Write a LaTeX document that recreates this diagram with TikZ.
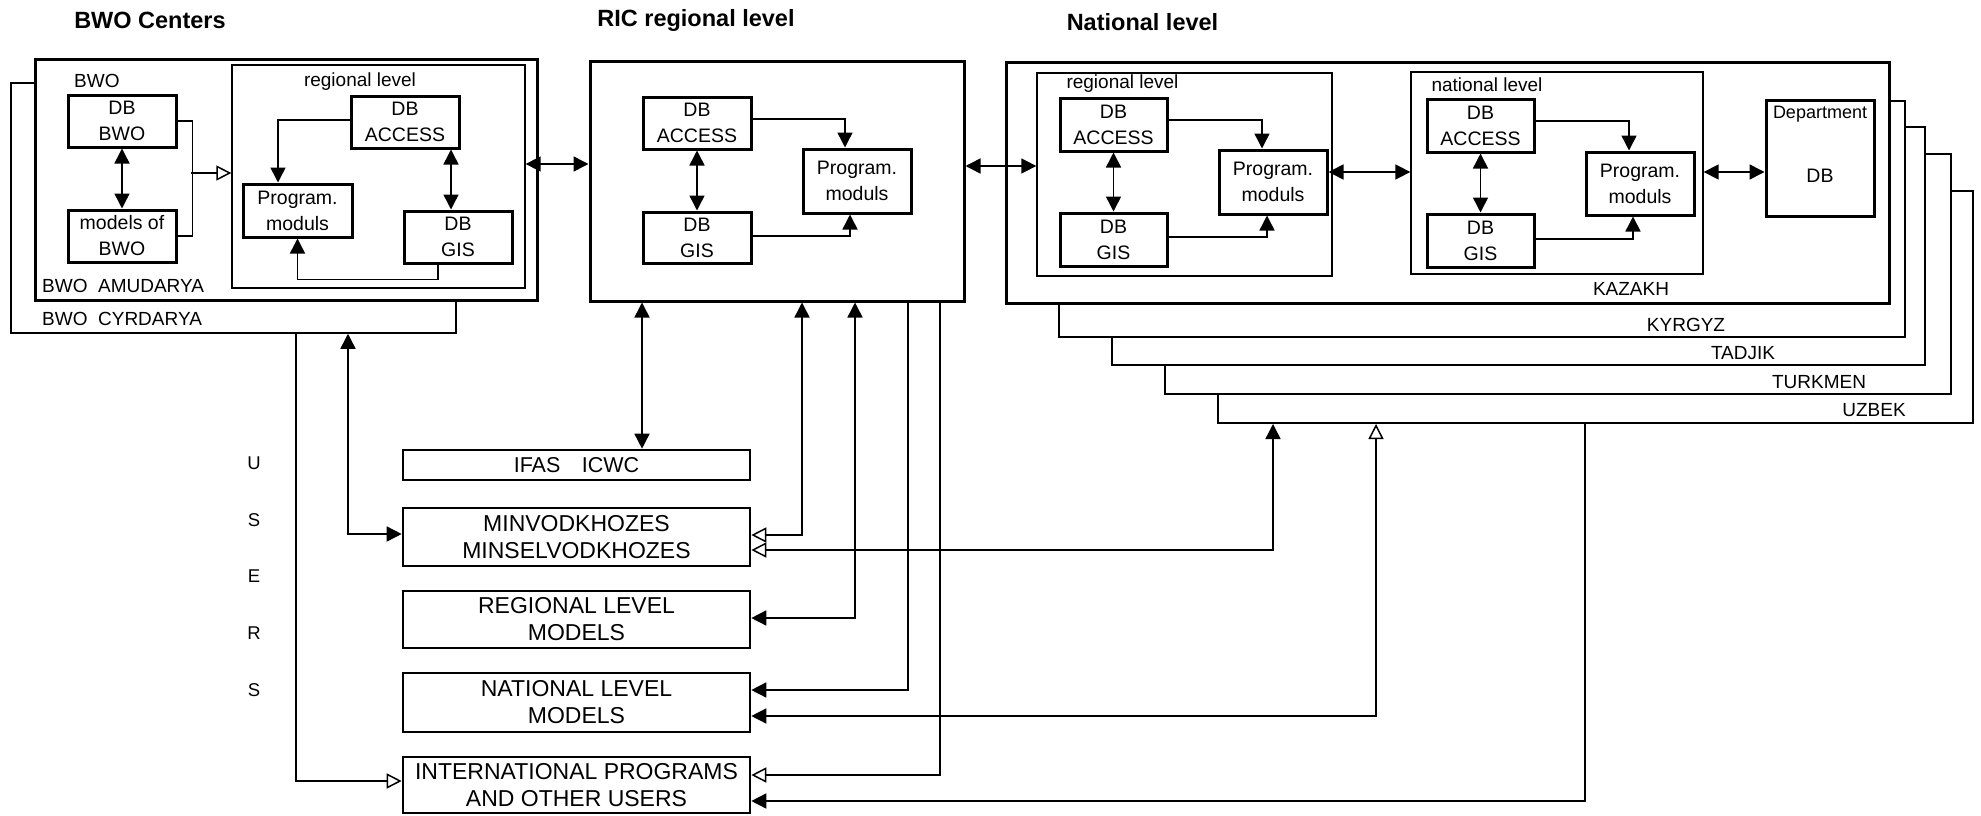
\documentclass[tikz,border=0pt]{standalone}
\usepackage{fontspec}
\setmainfont{Liberation Sans}
\usetikzlibrary{arrows.meta}
\begin{document}
\begin{tikzpicture}[x=1pt,y=-1pt,
  bx/.style={draw, line width=3pt, fill=white, inner sep=0pt, align=center, font=\fontsize{19.5}{26}\selectfont},
  cont/.style={draw, line width=1.3pt, inner sep=0pt},
  stk/.style={draw, line width=2pt, fill=white, inner sep=0pt},
  big/.style={draw, line width=3pt, fill=white, inner sep=0pt},
  ubx/.style={draw, line width=2.6pt, inner sep=0pt, align=center, font=\fontsize{23}{27}\selectfont, minimum width=347pt},
  lbl/.style={inner sep=0pt, font=\fontsize{19}{22}\selectfont},
  ulbl/.style={inner sep=0pt, font=\fontsize{18.5}{22}\selectfont},
  ttl/.style={inner sep=0pt, font=\fontsize{23.5}{28}\selectfont\bfseries},
  cn/.style={line width=1.5pt},
  arrS/.style={cn, -{Triangle[length=15pt,width=15pt]}},
  arrO/.style={cn, -{Triangle[open,length=15pt,width=15pt]}},
  arrSS/.style={cn, {Triangle[length=15pt,width=15pt]}-{Triangle[length=15pt,width=15pt]}},
  arrSO/.style={cn, {Triangle[length=15pt,width=15pt]}-{Triangle[open,length=15pt,width=15pt]}},
  arrOS/.style={cn, {Triangle[open,length=15pt,width=15pt]}-{Triangle[length=15pt,width=15pt]}}
]
\useasboundingbox (0,0) rectangle (1981,816);

% titles
\node[ttl] (t1) at (150,20) {BWO Centers};
\node[ttl] (t2) at (696,20) {RIC regional level};
\node[ttl] (t3) at (1142.5,22) {National level};

% ---------------- BWO centers ----------------
\node[stk, line width=1.5pt, minimum width=445pt, minimum height=250pt] (cyr) at (233.5,208) {};
\node[big, minimum width=502pt, minimum height=240pt] (amu) at (286,180) {};
\node[cont, minimum width=293pt, minimum height=223pt] (regB) at (378.5,176.5) {};
\node[bx, minimum width=108pt, minimum height=52pt] (dbbwo) at (122,121) {DB\\BWO};
\node[bx, minimum width=108pt, minimum height=52pt] (modbwo) at (122,236) {models of\\BWO};
\node[bx, minimum width=108pt, minimum height=52pt] (accB) at (405,122) {DB\\ACCESS};
\node[bx, minimum width=109pt, minimum height=53pt] (progB) at (297.5,210.5) {Program.\\moduls};
\node[bx, minimum width=108pt, minimum height=52pt] (gisB) at (458,237) {DB\\GIS};

\node[lbl, anchor=west] (tBWO) at (74,81) {BWO};
\node[lbl] (tRegB) at (360,82) {regional level};
\node[lbl, anchor=west] (tAmu) at (42,286) {BWO~~AMUDARYA};
\node[lbl, anchor=west] (tCyr) at (42,319) {BWO~~CYRDARYA};

\draw[arrSS] (dbbwo) -- (modbwo);
\draw[cn] (dbbwo.east) -- ++(15,0) |- (modbwo.east);
\coordinate (jB) at (191,173);
\draw[arrO] (jB) -- (jB -| regB.west);
\draw[arrS] ([yshift=2pt]accB.west) -| ([xshift=-19.5pt]progB.north);
\draw[arrSS] ([xshift=46pt]accB.south) -- ([xshift=-7pt]gisB.north);
\draw[arrS] ([xshift=-20pt]gisB.south) -- ++(0,15) -| (progB.south);

% ---------------- RIC ----------------
\node[big, minimum width=374pt, minimum height=239pt] (ric) at (777,181.5) {};
\node[bx, minimum width=108pt, minimum height=52pt] (accR) at (697,123) {DB\\ACCESS};
\node[bx, minimum width=108pt, minimum height=51pt] (gisR) at (697,237.5) {DB\\GIS};
\node[bx, minimum width=108pt, minimum height=64pt] (progR) at (857,181) {Program.\\moduls};
\draw[arrSS] (accR) -- (gisR);
\draw[arrS] ([yshift=4pt]accR.east) -| ([xshift=-12pt]progR.north);
\draw[arrS] ([yshift=1.5pt]gisR.east) -| ([xshift=-7pt]progR.south);
\coordinate (yA) at (0,164);
\draw[arrSS] (regB.east |- yA) -- (ric.west |- yA);

% ---------------- National ----------------
\node[stk, minimum width=755pt, minimum height=232pt] (uzb) at (1595.5,307) {};
\node[stk, minimum width=786pt, minimum height=240pt] (tur) at (1558,274) {};
\node[stk, minimum width=813pt, minimum height=238pt] (tad) at (1518.5,246) {};
\node[stk, minimum width=846pt, minimum height=236pt] (kyr) at (1482,219) {};
\node[big, minimum width=883pt, minimum height=240pt] (kaz) at (1447.5,183) {};

\node[cont, minimum width=295pt, minimum height=203pt] (regN) at (1184.5,174.5) {};
\node[bx, minimum width=107pt, minimum height=53pt] (accN1) at (1113.5,124.5) {DB\\ACCESS};
\node[bx, minimum width=107pt, minimum height=53pt] (gisN1) at (1113.5,239.5) {DB\\GIS};
\node[bx, minimum width=108pt, minimum height=64pt] (progN1) at (1273,182) {Program.\\moduls};
\node[cont, minimum width=292pt, minimum height=202pt] (natN) at (1557,173) {};
\node[bx, minimum width=107pt, minimum height=53pt] (accN2) at (1480.5,125.5) {DB\\ACCESS};
\node[bx, minimum width=107pt, minimum height=53pt] (gisN2) at (1480.5,240.5) {DB\\GIS};
\node[bx, minimum width=108pt, minimum height=63pt] (progN2) at (1640,183.5) {Program.\\moduls};
\node[bx, minimum width=108pt, minimum height=116pt] (dept) at (1820,158) {};
\node[lbl, font=\fontsize{18}{20}\selectfont] (deptT) at (1820,114) {Department};
\node[lbl, font=\fontsize{19.5}{22}\selectfont] (deptD) at (1820,176) {DB};

\node[lbl] (tRegN) at (1122.5,84) {regional level};
\node[lbl] (tNatN) at (1487,85) {national level};
\node[lbl] (tKaz) at (1631,289) {KAZAKH};
\node[lbl] (tKyr) at (1686,325) {KYRGYZ};
\node[lbl] (tTad) at (1743,353) {TADJIK};
\node[lbl] (tTur) at (1819,382) {TURKMEN};
\node[lbl] (tUzb) at (1874,410) {UZBEK};

\draw[arrSS] (accN1) -- (gisN1);
\draw[arrS] ([yshift=4.5pt]accN1.east) -| ([xshift=-11pt]progN1.north);
\draw[arrS] ([yshift=2.5pt]gisN1.east) -| ([xshift=-6pt]progN1.south);
\coordinate (yB) at (0,166);
\draw[arrSS] (ric.east |- yB) -- (regN.west |- yB);
\coordinate (yC) at (0,172);
\draw[arrSS] (progN1.east |- yC) -- (natN.west |- yC);
\draw[arrSS] (accN2) -- (gisN2);
\draw[arrS] ([yshift=4.5pt]accN2.east) -| ([xshift=-11pt]progN2.north);
\draw[arrS] ([yshift=1.5pt]gisN2.east) -| ([xshift=-7pt]progN2.south);
\draw[arrSS] (natN.east |- yC) -- (dept.west |- yC);

% ---------------- Users ----------------
\node[ulbl] (u1) at (254,463) {U};
\node[ulbl] (u2) at (254,520) {S};
\node[ulbl] (u3) at (254,576) {E};
\node[ulbl] (u4) at (254,633) {R};
\node[ulbl] (u5) at (254,690) {S};

\node[ubx, minimum height=30pt, font=\fontsize{21.5}{26}\selectfont] (ifas) at (576.5,465) {IFAS\hspace{1em}ICWC};
\node[ubx, minimum height=58pt] (minv) at (576.5,537) {MINVODKHOZES\\MINSELVODKHOZES};
\node[ubx, minimum height=57pt] (regm) at (576.5,619.5) {REGIONAL LEVEL\\MODELS};
\node[ubx, minimum height=59pt] (natm) at (576.5,702.5) {NATIONAL LEVEL\\MODELS};
\node[ubx, minimum height=56pt] (intl) at (576.5,785) {INTERNATIONAL PROGRAMS\\AND OTHER USERS};

\draw[arrO] ([xshift=62.5pt]cyr.south) |- ([yshift=4pt]intl.west);
\draw[arrSS] ([xshift=114.5pt]cyr.south) |- ([yshift=3pt]minv.west);
\draw[arrSS] ([xshift=-135pt]ric.south) -- ([xshift=65.5pt]ifas.north);
\draw[arrSO] ([xshift=25pt]ric.south) |- ([yshift=2pt]minv.east);
\draw[arrSS] ([xshift=78pt]ric.south) |- ([yshift=1.5pt]regm.east);
\draw[arrS] ([xshift=131pt]ric.south) |- ([yshift=12.5pt]natm.east);
\draw[arrO] ([xshift=163pt]ric.south) |- ([yshift=10pt]intl.east);
\draw[arrSO] ([xshift=-322.5pt]uzb.south) |- ([yshift=-13pt]minv.east);
\draw[arrOS] ([xshift=-219.5pt]uzb.south) |- ([yshift=-13.5pt]natm.east);
\draw[arrS] ([xshift=-10.5pt]uzb.south) |- ([yshift=-16pt]intl.east);
\end{tikzpicture}
\end{document}
